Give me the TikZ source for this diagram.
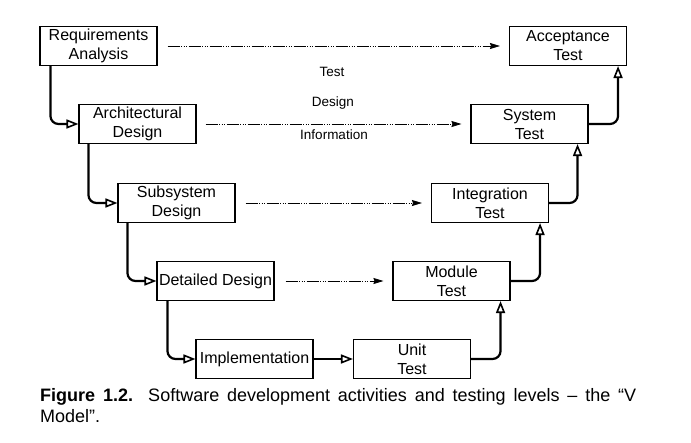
\documentclass[tikz,border=0pt]{standalone}
\usepackage{fontspec}
\setmainfont{Liberation Sans}
\usetikzlibrary{arrows.meta}
\begin{document}
\begin{tikzpicture}[x=1pt,y=-1pt,
  stagebox/.style={draw, line width=1.1pt, minimum width=117pt, minimum height=39pt,
    inner sep=0pt, align=center, font=\fontsize{16}{19}\selectfont},
  vline/.style={line width=2.2pt, rounded corners=8pt,
    -{Triangle[open,length=12pt,width=9pt,line width=1.6pt]}},
  info/.style={line width=0.8pt,
    dash pattern=on 12pt off 1.5pt on 1pt off 1.5pt on 1pt off 1.5pt on 1pt off 1.5pt,
    -{Stealth[length=10pt,width=6pt,inset=1pt]}},
  lbl/.style={font=\fontsize{13.5}{16}\selectfont, inner sep=0pt}]
\useasboundingbox (0,0) rectangle (691,442);
% left side
\node[stagebox] (req)  at (98.5,46)  {Requirements\\Analysis};
\node[stagebox] (arch) at (137.5,124) {Architectural\\Design};
\node[stagebox] (sub)  at (176.5,203) {Subsystem\\Design};
\node[stagebox] (det)  at (215.5,281) {Detailed Design};
\node[stagebox] (impl) at (254.5,359) {Implementation};
% right side
\node[stagebox] (acc)   at (568,46)   {Acceptance\\Test};
\node[stagebox] (sys)   at (529.5,124) {System\\Test};
\node[stagebox] (integ) at (490,203)  {Integration\\Test};
\node[stagebox] (mod)   at (451.5,281) {Module\\Test};
\node[stagebox] (unit)  at (412,359)  {Unit\\Test};
% design descent
\draw[vline] ([xshift=11pt]req.south west) |- (arch.west);
\draw[vline] ([xshift=10pt]arch.south west) |- (sub.west);
\draw[vline] ([xshift=10pt]sub.south west) |- (det.west);
\draw[vline] ([xshift=11pt]det.south west) |- (impl.west);
\draw[vline] (impl.east) -- (unit.west);
% test ascent
\draw[vline] (unit.east) -| ([xshift=-10pt]mod.south east);
\draw[vline] (mod.east) -| ([xshift=-9pt]integ.south east);
\draw[vline] (integ.east) -| ([xshift=-11pt]sys.south east);
\draw[vline] (sys.east) -| ([xshift=-9pt]acc.south east);
% test design information
\draw[info] ([xshift=10pt]req.east) -- ([xshift=-9pt]acc.west);
\draw[info] ([xshift=9pt]arch.east) -- ([xshift=-9pt]sys.west);
\draw[info] ([xshift=10pt]sub.east) -- ([xshift=-9pt]integ.west);
\draw[info] ([xshift=11pt]det.east) -- ([xshift=-9pt]mod.west);
% labels
\node[lbl] (ltest) at (332,72) {Test};
\node[lbl] (ldes)  at (333,103) {Design};
\node[lbl] (linfo) at (334,135) {Information};
% caption
\node[anchor=north west, inner sep=0pt, text width=596pt, align=justify,
  font=\fontsize{18}{21}\selectfont] (cap) at (40,388)
  {\textbf{Figure 1.2.} Software development activities and testing levels – the “V\linebreak Model”.};
\end{tikzpicture}
\end{document}
